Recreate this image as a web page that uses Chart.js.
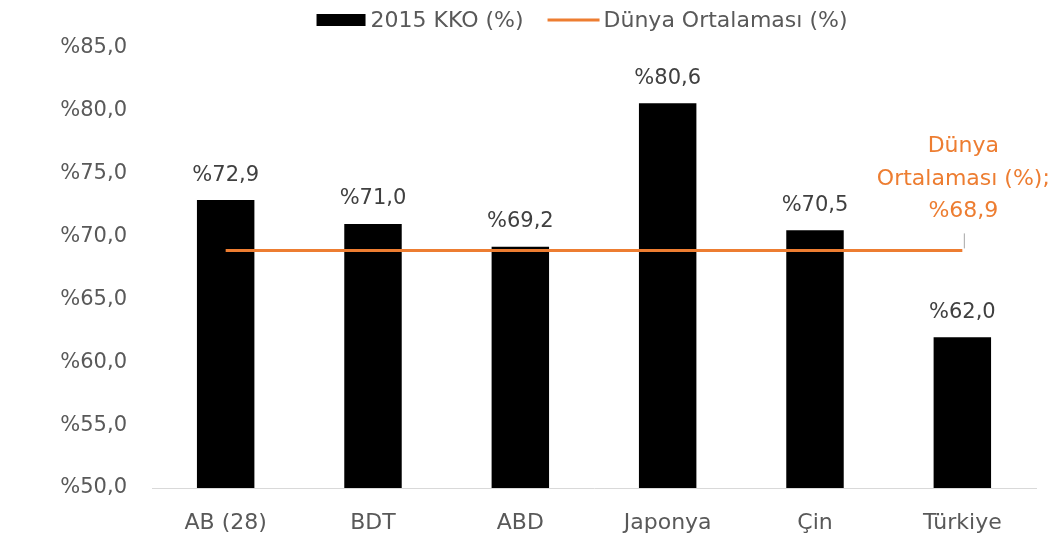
<!DOCTYPE html>
<html>
<head>
<meta charset="utf-8">
<script src="https://cdn.jsdelivr.net/npm/chart.js@4/dist/chart.umd.min.js"></script>
<style>
  html, body { margin: 0; padding: 0; background: #fff; }
  #wrap { width: 1060px; height: 543px; }
</style>
</head>
<body>
<div id="wrap"><canvas id="grafik"></canvas></div>
<script>
var kategoriler = ["AB (28)", "BDT", "ABD", "Japonya", "Çin", "Türkiye"];
var kko2015 = [72.9, 71.0, 69.2, 80.6, 70.5, 62.0];
var dunyaOrtalamasi = [68.9, 68.9, 68.9, 68.9, 68.9, 68.9];
var yTicks = [50, 55, 60, 65, 70, 75, 80, 85];

var yaziTipi = "DejaVu Sans";
var gri = "#595959";
var turuncu = "#ED7D31";

function yuzde(v) {
    return "%" + v.toFixed(1).replace(".", ",");
}

// ust kisimdaki lejant (Excel tarzi, kutu ile yazi arasi dar)
var lejant = {
    id: 'lejant',
    afterDraw: function(chart) {
        var ctx = chart.ctx;
        var ds = chart.data.datasets;
        ctx.save();
        ctx.font = "22px '" + yaziTipi + "'";
        ctx.textBaseline = "middle";
        ctx.textAlign = "left";
        var w0 = ctx.measureText(ds[0].label).width;
        var w1 = ctx.measureText(ds[1].label).width;
        var toplam = 49 + 5 + w0 + 24 + 52 + 4 + w1;
        var x = 582 - toplam / 2;
        var y = 20;
        ctx.fillStyle = ds[0].backgroundColor;
        ctx.fillRect(x, y - 6, 49, 12);
        x += 49 + 5;
        ctx.fillStyle = gri;
        ctx.fillText(ds[0].label, x, y + 1);
        x += w0 + 24;
        ctx.strokeStyle = ds[1].borderColor;
        ctx.lineWidth = 3;
        ctx.beginPath();
        ctx.moveTo(x, y);
        ctx.lineTo(x + 52, y);
        ctx.stroke();
        x += 52 + 4;
        ctx.fillText(ds[1].label, x, y + 1);
        ctx.restore();
    }
};

// bar ustu etiketler + cizginin sagindaki etiket
var etiketler = {
    id: 'etiketler',
    afterDatasetsDraw: function(chart) {
        var ctx = chart.ctx;
        ctx.save();
        ctx.font = "21px '" + yaziTipi + "'";
        ctx.textAlign = "center";
        ctx.textBaseline = "middle";
        ctx.fillStyle = "#404040";
        chart.getDatasetMeta(0).data.forEach(function(bar, i) {
            ctx.fillText(yuzde(kko2015[i]), bar.x, bar.y - 25);
        });

        var noktalar = chart.getDatasetMeta(1).data;
        var i = noktalar.length - 1;
        var son = noktalar[i];
        ctx.strokeStyle = "#a6a6a6";
        ctx.lineWidth = 1;
        ctx.beginPath();
        ctx.moveTo(son.x + 2, son.y - 2);
        ctx.lineTo(son.x + 2, son.y - 17);
        ctx.stroke();
        ctx.fillStyle = turuncu;
        ctx.font = "22px '" + yaziTipi + "'";
        ctx.fillText(yuzde(dunyaOrtalamasi[i]), son.x + 1, son.y - 39);
        ctx.fillText("Ortalaması (%);", son.x + 1, son.y - 71);
        ctx.fillText("Dünya", son.x + 1, son.y - 104);
        ctx.restore();
    }
};

var c = document.getElementById("grafik");
var ctx = c.getContext("2d");
var chart = new Chart(ctx, {
    type: 'bar',
    data: {
        labels: kategoriler,
        datasets: [{
            type: 'bar',
            label: "2015 KKO (%)",
            data: kko2015,
            backgroundColor: "#000000",
            borderWidth: 0,
            categoryPercentage: 1.0,
            barPercentage: 0.39,
            order: 2
        }, {
            type: 'line',
            label: "Dünya Ortalaması (%)",
            data: dunyaOrtalamasi,
            borderColor: turuncu,
            backgroundColor: turuncu,
            borderWidth: 3,
            pointRadius: 0,
            pointHoverRadius: 0,
            order: 1
        }]
    },
    options: {
        responsive: true,
        maintainAspectRatio: false,
        animation: false,
        layout: { padding: { left: 0, right: 24, top: 48, bottom: 0 } },
        plugins: {
            tooltip: { enabled: false },
            legend: { display: false }
        },
        scales: {
            x: {
                grid: { display: false, drawTicks: false },
                border: { display: true, color: "#d9d9d9", width: 1 },
                afterFit: function(axis) { axis.height = 55; },
                ticks: {
                    color: gri,
                    padding: 22,
                    font: { family: yaziTipi, size: 22 }
                }
            },
            y: {
                min: 50,
                max: 85,
                afterBuildTicks: function(axis) {
                    axis.ticks = yTicks.map(function(v) { return { value: v }; });
                },
                afterFit: function(axis) { axis.width = 152; },
                grid: { display: false, drawTicks: false },
                border: { display: false },
                ticks: {
                    color: gri,
                    padding: 25,
                    font: { family: yaziTipi, size: 21 },
                    callback: function(v) { return yuzde(v); }
                }
            }
        }
    },
    plugins: [etiketler, lejant]
});
</script>
</body>
</html>
